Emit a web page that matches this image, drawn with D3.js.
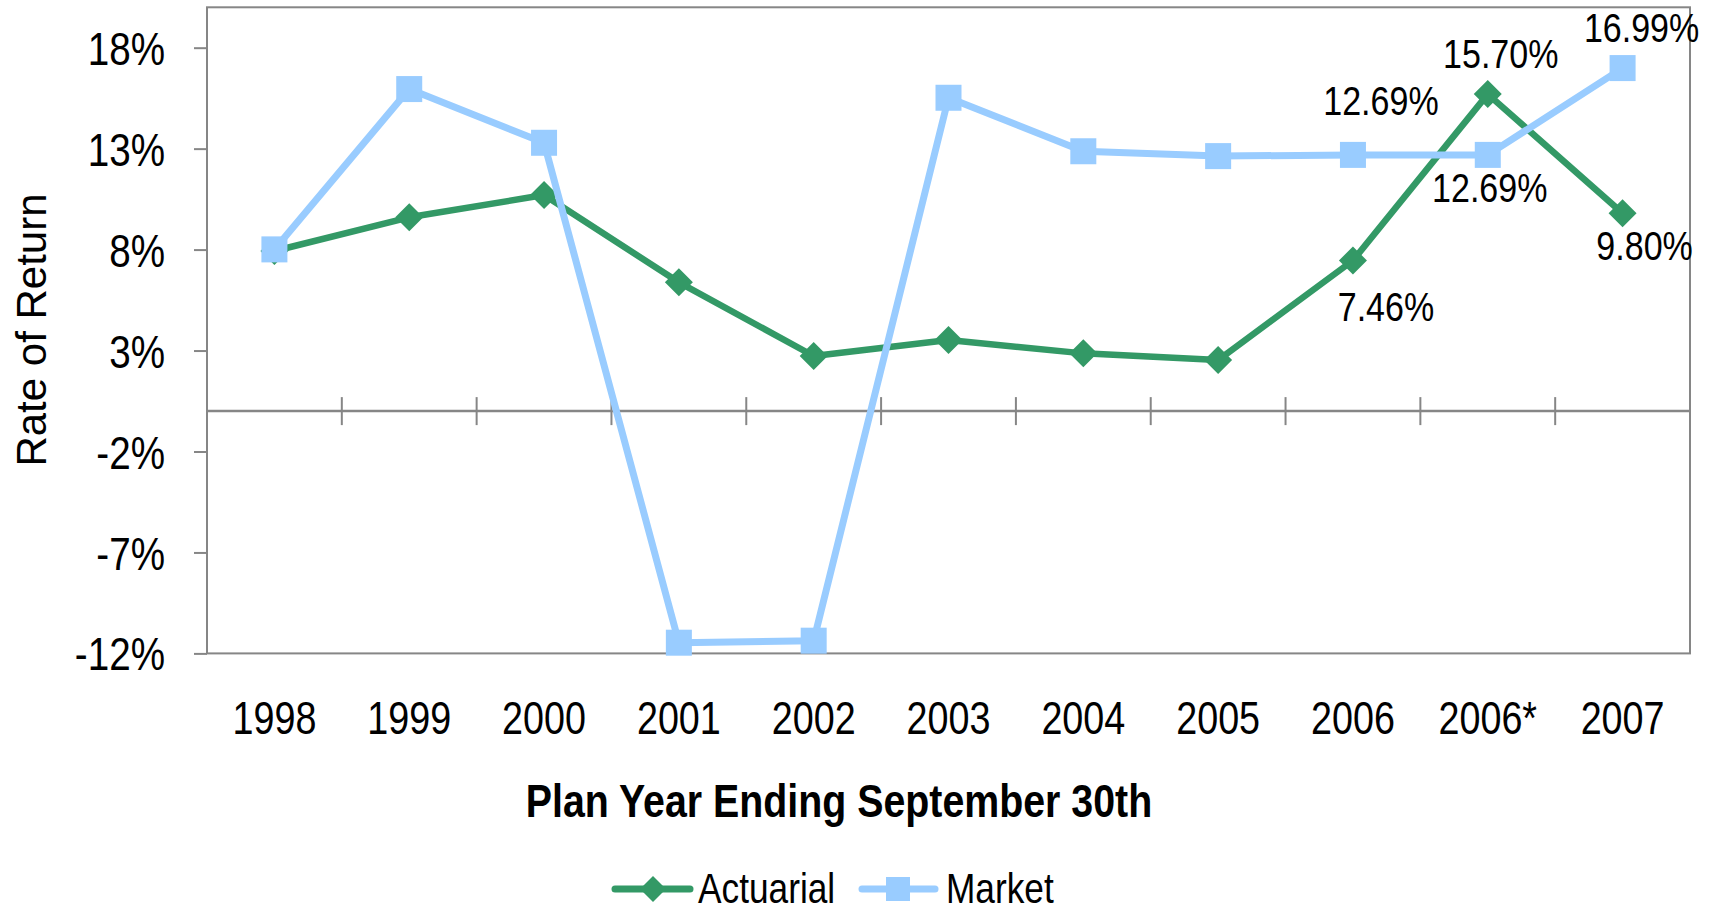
<!DOCTYPE html>
<html>
<head>
<meta charset="utf-8">
<script src="https://cdn.jsdelivr.net/npm/d3@7"></script>
<style>
  html, body { margin: 0; padding: 0; background: #ffffff; }
  svg { display: block; }
  text { font-family: "Liberation Sans", Arial, Helvetica, sans-serif; }
</style>
</head>
<body>
<svg id="chart" width="1719" height="913"></svg>
<script>
// ---- data ----
const categories = ["1998", "1999", "2000", "2001", "2002", "2003", "2004", "2005", "2006", "2006*", "2007"];
const actuarial  = [7.93, 9.60, 10.70, 6.38, 2.73, 3.52, 2.86, 2.53, 7.46, 15.70, 9.80];
const market     = [8.01, 15.95, 13.29, -11.47, -11.37, 15.52, 12.87, 12.63, 12.69, 12.69, 16.99];
const yTicks     = [-12, -7, -2, 3, 8, 13, 18];
const seriesNames = ["Actuarial", "Market"];
// data labels: series, category index
const labelSeries = ["Market", "Market", "Market", "Actuarial", "Actuarial", "Actuarial"];
const labelIndex  = [8, 9, 10, 8, 9, 10];
// ---- presentation ----
const labelOffsets = [[28, -40], [2, 47], [19, -26], [33, 61], [13, -26], [22, 47]];
const colors = { Actuarial: "#339966", Market: "#99CCFF" };
const plot = { left: 207, right: 1690, top: 7.3, bottom: 653.4 };
const axisColor = "#868686";
const NARROW = 0.82;

const svg = d3.select("#chart");

const x = d3.scaleBand().domain(categories).range([plot.left, plot.right]).padding(0);
const y = d3.scaleLinear().domain([-12, 20]).range([plot.bottom, plot.top]);
const cx = c => x(c) + x.bandwidth() / 2;

// condensed text helper
function narrow(sel, tx, ty, sx) {
  sel.attr("x", 0).attr("y", 0)
     .attr("transform", function (d, i) {
       const X = typeof tx === "function" ? tx(d, i) : tx;
       const Y = typeof ty === "function" ? ty(d, i) : ty;
       return `translate(${X},${Y}) scale(${sx || NARROW},1)`;
     });
  return sel;
}

// plot border
svg.append("rect")
  .attr("x", plot.left).attr("y", plot.top)
  .attr("width", plot.right - plot.left).attr("height", plot.bottom - plot.top)
  .attr("fill", "none").attr("stroke", axisColor).attr("stroke-width", 2);

// y axis
const yAxis = d3.axisLeft(y).tickValues(yTicks).tickFormat(d => d + "%")
  .tickSize(13).tickSizeOuter(0).tickPadding(29);
const gy = svg.append("g").attr("transform", `translate(${plot.left},0)`).call(yAxis);
gy.select(".domain").remove();
gy.selectAll(".tick line").attr("stroke", axisColor).attr("stroke-width", 2);
narrow(gy.selectAll(".tick text"), -42, 0, 0.84)
  .attr("font-size", 46).attr("fill", "#000").attr("font-family", null)
  .attr("dy", "0.36em").attr("text-anchor", "end");

// zero line with category separators
const y0 = y(0);
svg.append("line").attr("x1", plot.left).attr("x2", plot.right)
  .attr("y1", y0).attr("y2", y0).attr("stroke", axisColor).attr("stroke-width", 2.5);
svg.append("g").selectAll("line").data(categories.slice(1)).join("line")
  .attr("x1", d => x(d)).attr("x2", d => x(d))
  .attr("y1", y0 - 14).attr("y2", y0 + 14)
  .attr("stroke", axisColor).attr("stroke-width", 2);

// x axis labels (at bottom)
const xAxis = d3.axisBottom(x).tickSize(0).tickSizeOuter(0);
const gx = svg.append("g").attr("transform", `translate(0,${plot.bottom})`).call(xAxis);
gx.select(".domain").remove();
narrow(gx.selectAll(".tick text"), 0, 80.8)
  .attr("font-size", 46).attr("fill", "#000").attr("font-family", null)
  .attr("dy", 0).attr("text-anchor", "middle");

// lines
const seriesData = { Actuarial: actuarial, Market: market };
const line = d3.line().x((d, i) => cx(categories[i])).y(d => y(d));
const diamond = s => `M0,${-s}L${s},0L0,${s}L${-s},0Z`;

seriesNames.forEach(name => {
  const vals = seriesData[name];
  const g = svg.append("g");
  g.append("path").datum(vals).attr("d", line)
    .attr("fill", "none").attr("stroke", colors[name]).attr("stroke-width", name === "Market" ? 7 : 6.5)
    .attr("stroke-linejoin", "round");
  if (name === "Actuarial") {
    g.selectAll("path.m").data(vals).join("path").attr("class", "m")
      .attr("d", diamond(14))
      .attr("transform", (d, i) => `translate(${cx(categories[i])},${y(d)})`)
      .attr("fill", colors[name]);
  } else {
    g.selectAll("rect.m").data(vals).join("rect").attr("class", "m")
      .attr("x", (d, i) => cx(categories[i]) - 13).attr("y", d => y(d) - 13)
      .attr("width", 26).attr("height", 26)
      .attr("fill", colors[name]);
  }
});

// data labels
const dl = svg.append("g").selectAll("text").data(labelIndex).join("text")
  .attr("text-anchor", "middle").attr("font-size", 41).attr("fill", "#000")
  .text((idx, k) => seriesData[labelSeries[k]][idx].toFixed(2) + "%");
narrow(dl,
  (idx, k) => cx(categories[idx]) + labelOffsets[k][0],
  (idx, k) => y(seriesData[labelSeries[k]][idx]) + labelOffsets[k][1], 0.83);

// axis titles
svg.append("text")
  .attr("transform", `translate(31,330) rotate(-90)`)
  .attr("text-anchor", "middle").attr("dominant-baseline", "central")
  .attr("font-size", 42)
  .attr("fill", "#000").text("Rate of Return");

narrow(svg.append("text"), 839, 817, 0.855)
  .attr("text-anchor", "middle")
  .attr("font-size", 46).attr("font-weight", "bold").attr("fill", "#000")
  .text("Plan Year Ending September 30th");

// legend
const legendItems = [
  { name: "Actuarial", x1: 615, x2: 690, mx: 653, tx: 698 },
  { name: "Market", x1: 862, x2: 935, mx: 898, tx: 946 }
];
const ly = 889;
const lg = svg.append("g");
legendItems.forEach(it => {
  lg.append("line").attr("x1", it.x1).attr("x2", it.x2).attr("y1", ly).attr("y2", ly)
    .attr("stroke", colors[it.name]).attr("stroke-width", 7).attr("stroke-linecap", "round");
  if (it.name === "Actuarial") {
    lg.append("path").attr("d", diamond(13)).attr("transform", `translate(${it.mx},${ly})`)
      .attr("fill", colors[it.name]);
  } else {
    lg.append("rect").attr("x", it.mx - 12).attr("y", ly - 12).attr("width", 24).attr("height", 24)
      .attr("fill", colors[it.name]);
  }
  narrow(lg.append("text"), it.tx, ly + 14)
    .attr("font-size", 43).attr("fill", "#000").text(it.name);
});
</script>
</body>
</html>
